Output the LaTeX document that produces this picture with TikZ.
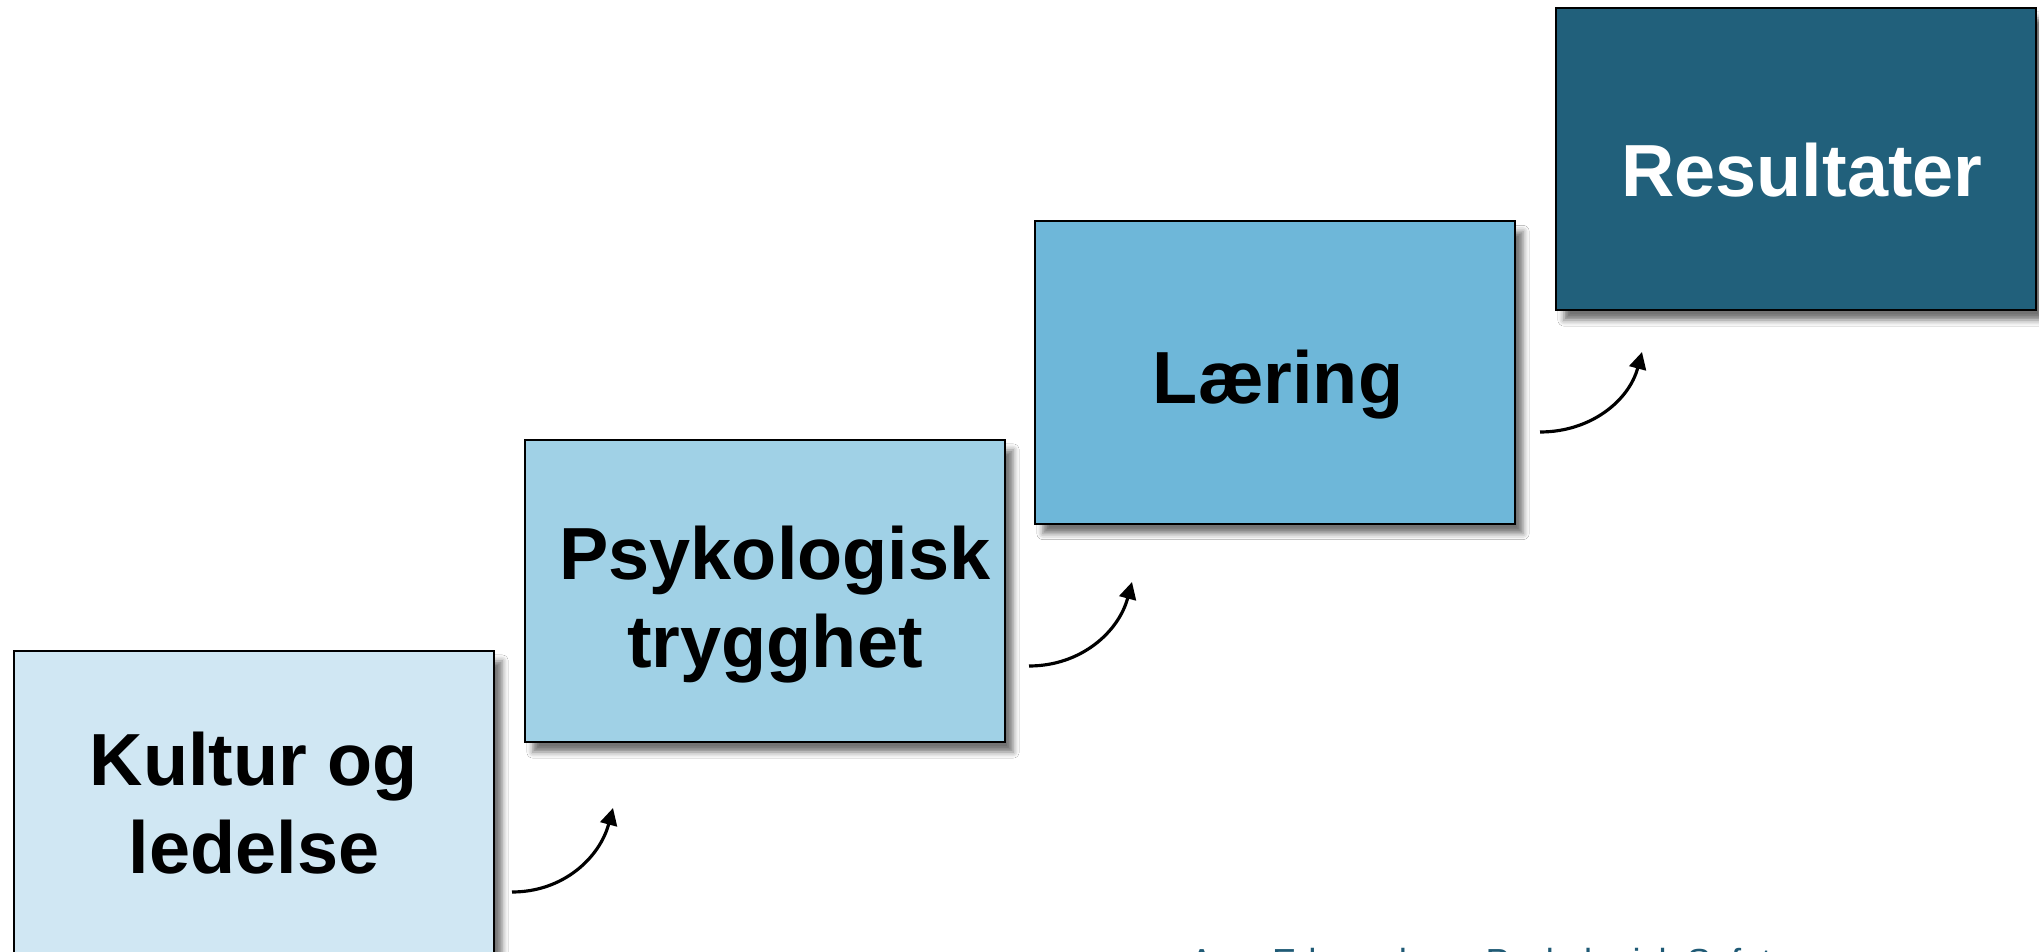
\documentclass[tikz,border=0pt]{standalone}
\usepackage{fontspec}
\setmainfont{Liberation Sans}
\usetikzlibrary{shadows.blur,arrows.meta}
\definecolor{c1}{HTML}{D0E7F3}
\definecolor{c2}{HTML}{A0D1E6}
\definecolor{c3}{HTML}{6EB7D9}
\definecolor{c4}{HTML}{21607B}
\definecolor{srcblue}{HTML}{1F5A75}
\tikzset{
  stepbox/.style={draw=black, line width=0.6pt, inner sep=0pt, outer sep=0pt,
    minimum width=4.80cm, minimum height=3.02cm,
    blur shadow={shadow xshift=0.08cm, shadow yshift=-0.1cm, shadow blur radius=0.06cm, shadow opacity=55}},
  lbl/.style={font=\bfseries\fontsize{21}{25}\selectfont, inner sep=0pt, anchor=base, align=center},
  flow/.style={line width=0.9pt, -{Triangle[length=0.17cm, width=0.17cm]}}
}
\begin{document}
\begin{tikzpicture}[x=0.01cm, y=-0.01cm]
\useasboundingbox (0,0) rectangle (2039,952);
\fill[white] (0,0) rectangle (2039,952);
% boxes
\node[stepbox, fill=c1] (b1) at (254,802) {};
\node[stepbox, fill=c2] (b2) at (765,591) {};
\node[stepbox, fill=c3] (b3) at (1275,372.5) {};
\node[stepbox, fill=c4] (b4) at (1796,159) {};
% labels (base = baseline of the last line)
\node[lbl] (t1) at (254,873) {Kultur og\\ledelse};
\node[lbl] (t2) at (775,667) {Psykologisk\\trygghet};
\node[lbl] (t3) at (1278,404) {Læring};
\node[lbl, text=white] (t4) at (1802,197) {Resultater};
% arrows
\coordinate (a1s) at (512,892);
\coordinate (a1e) at (613,808);
\coordinate (a2s) at (1029,666);
\coordinate (a2e) at (1132,582);
\coordinate (a3s) at (1540,432);
\coordinate (a3e) at (1642,352);
\draw[flow] (a1s) to[out=0, in=-105] (a1e);
\draw[flow] (a2s) to[out=0, in=-105] (a2e);
\draw[flow] (a3s) to[out=0, in=-105] (a3e);
% source line (cut off at bottom, as in the reference)
\node[font=\fontsize{10.3}{12}\selectfont, text=srcblue, anchor=base west, inner sep=0pt] (src) at (1189,974) {Amy Edmondson, Psykologisk Safety};
\end{tikzpicture}
\end{document}
